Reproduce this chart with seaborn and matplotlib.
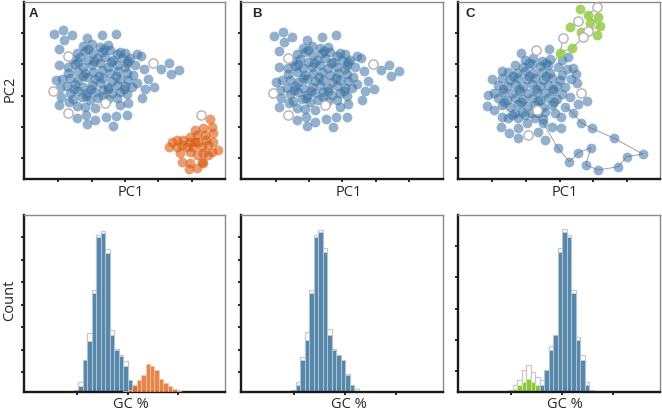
import numpy as np
import pandas as pd
import matplotlib
matplotlib.use("Agg")
import matplotlib.pyplot as plt
import seaborn as sns

# ---------------- data ----------------
# PCA scatter, panels A/B share the main cluster (PC1, PC2 in arbitrary units)
blue_ab = [
    (7.2, 10.2), (9.8, 9.0), (12.7, 10.6), (10.3, 12.0), (17.2, 11.5), (21.7, 10.6), (25.7, 10.1),
    (8.6, 14.8), (30.0, 17.5), (32.2, 16.3), (33.2, 16.8), (27.0, 15.5),
    (39.2, 20.6), (41.8, 19.0), (44.7, 20.9), (42.3, 22.2), (34.3, 20.8), (31.5, 19.5), (35.3, 23.7),
    (32.0, 24.8), (37.2, 26.2), (34.5, 26.8), (33.5, 29.5),
    (8.6, 19.5), (11.5, 20.0), (7.8, 24.0), (9.5, 23.6), (9.0, 26.5), (9.2, 29.0), (8.8, 31.6),
    (14.0, 35.5), (16.8, 34.5), (17.2, 37.3), (19.6, 36.0), (22.8, 35.2), (24.8, 37.7), (25.8, 34.7),
    (29.2, 34.5), (29.4, 30.8), (27.0, 31.5), (19.5, 32.5), (16.5, 32.2), (14.0, 31.8), (11.8, 30.5),
    (16.0, 13.8), (18.5, 13.2), (21.0, 14.0), (23.5, 13.5),
    (14.0, 15.8), (16.5, 15.2), (19.0, 16.0), (21.5, 15.5), (24.0, 15.0), (26.2, 16.2), (28.5, 15.8),
    (12.5, 17.8), (15.0, 17.2), (17.5, 18.0), (20.0, 17.5), (22.5, 17.0), (25.0, 18.0), (27.5, 17.4), (29.5, 18.2),
    (13.5, 19.2), (16.0, 20.0), (18.5, 19.5), (21.0, 19.0), (23.5, 20.0), (26.0, 19.5), (28.5, 20.2),
    (11.5, 21.8), (14.0, 21.2), (16.5, 22.0), (19.0, 21.5), (21.5, 21.0), (24.0, 22.0), (26.5, 21.4), (29.0, 21.8), (31.0, 22.5),
    (12.0, 23.5), (14.5, 24.0), (17.0, 23.2), (19.5, 23.8), (22.0, 23.4), (24.5, 24.2), (27.0, 23.6), (29.5, 23.9),
    (11.0, 25.8), (13.5, 25.2), (16.0, 26.0), (18.5, 25.5), (21.0, 25.0), (23.5, 26.0), (26.0, 25.4), (28.5, 25.8), (30.5, 26.0),
    (12.0, 27.8), (14.5, 27.2), (17.0, 28.0), (19.5, 27.5), (22.0, 27.0), (24.5, 28.0), (27.0, 27.5), (29.0, 28.2),
    (13.0, 29.8), (15.5, 29.2), (18.0, 30.0), (20.5, 29.5), (23.5, 29.8), (26.0, 29.4),
    (17.3, 14.6), (22.3, 14.7),
    (14.3, 18.6), (19.3, 18.4), (24.3, 18.5), (29.0, 19.0),
    (15.8, 22.9), (20.8, 22.7), (25.8, 22.8),
    (13.3, 26.6), (18.3, 26.8), (23.3, 26.7), (28.3, 26.8),
    (16.8, 28.9), (21.8, 28.7),
]
hollow_ab = [(11.5, 16.8), (36.8, 18.8), (7.0, 27.3), (11.5, 34.0), (22.5, 31.0)]
hollow_a_extra = [(51.2, 34.5)]
orange_a = [
    (54.0, 35.7), (54.5, 38.0), (52.0, 38.5), (49.5, 39.0), (50.0, 40.5), (48.0, 41.0), (52.5, 40.5),
    (55.0, 40.0), (52.8, 42.0), (50.5, 42.5), (48.0, 42.5), (46.0, 42.0), (44.0, 42.0), (42.5, 42.5),
    (41.8, 44.0), (44.0, 44.0), (45.5, 43.5), (47.0, 44.0), (49.0, 44.0), (51.5, 44.0), (53.5, 43.5),
    (55.0, 42.5), (56.5, 45.0), (54.5, 45.5), (52.0, 46.0), (50.0, 46.5), (48.0, 45.5), (45.0, 45.8),
    (45.5, 48.5), (48.0, 49.0), (51.5, 48.5), (52.0, 49.0), (50.0, 50.5), (47.8, 50.8), (53.5, 46.5), (49.5, 42.5),
]
blue_c = [
    (19.8, 15.8), (28.3, 14.8), (34.0, 17.2), (33.5, 20.8), (35.5, 20.5), (36.2, 22.2), (34.8, 23.8),
    (36.5, 24.8), (34.5, 29.0), (39.5, 30.2), (37.0, 31.2), (32.0, 28.3), (11.0, 23.8), (14.0, 21.2),
    (10.0, 28.5), (11.8, 27.8), (9.5, 31.8), (11.8, 33.0), (14.0, 35.0), (13.8, 38.2), (16.3, 40.0),
    (19.0, 38.5), (19.0, 41.5), (21.5, 36.8), (25.0, 39.5), (22.8, 34.0), (16.0, 35.5), (18.0, 34.0),
    (31.8, 38.5), (29.0, 38.0), (31.8, 35.2), (30.0, 34.0), (27.0, 33.5), (32.0, 18.0), (27.0, 42.0),
    (21.0, 18.0), (23.5, 17.5), (26.0, 18.3), (28.5, 17.8),
    (18.0, 19.5), (20.5, 20.0), (23.0, 19.3), (25.5, 19.8), (28.0, 19.5), (31.0, 20.0),
    (16.0, 21.5), (18.5, 22.0), (21.0, 21.3), (23.5, 21.8), (26.0, 21.5), (28.5, 22.0), (32.0, 22.5),
    (14.0, 23.5), (16.5, 24.0), (19.0, 23.3), (21.5, 23.8), (24.0, 23.5), (26.5, 24.0), (29.0, 23.4), (31.5, 24.0),
    (13.0, 25.5), (15.5, 25.8), (18.0, 25.2), (20.5, 25.7), (23.0, 25.3), (25.5, 25.8), (28.0, 25.4), (30.5, 25.9), (33.0, 26.0),
    (14.5, 27.5), (17.0, 28.0), (19.5, 27.3), (22.0, 27.8), (24.5, 27.5), (27.0, 28.0), (29.5, 27.4),
    (13.0, 29.5), (15.5, 30.0), (18.0, 29.3), (20.5, 29.8), (23.0, 29.5), (25.5, 30.0), (28.0, 29.4), (30.5, 29.8),
    (14.0, 31.5), (16.5, 32.0), (19.0, 31.3), (21.5, 31.8), (24.0, 31.5), (26.5, 32.0), (29.0, 31.4),
    (20.0, 33.5), (25.0, 33.8), (19.0, 35.5), (24.0, 35.5), (26.5, 35.8),
    (22.3, 18.8), (27.3, 18.9),
    (17.3, 22.7), (22.3, 22.8), (27.3, 22.9),
    (14.3, 26.6), (19.3, 26.8), (24.3, 26.7), (29.3, 26.8),
    (14.8, 30.6), (19.8, 30.5), (24.8, 30.4), (29.8, 30.6),
    (17.0, 34.5), (21.0, 34.6),
]
green_c = [(37.5, 2.8), (39.8, 4.5), (42.8, 5.0), (40.5, 7.0), (43.5, 7.8), (34.5, 8.2),
           (37.8, 9.5), (42.5, 10.5), (35.0, 14.5), (31.5, 15.8)]
hollow_c = [(42.5, 2.2), (37.0, 6.2), (40.0, 9.2), (38.5, 11.2), (32.5, 11.3), (24.2, 15.0),
            (37.8, 28.0), (22.0, 40.5), (24.5, 33.0)]
chain_c = [(26.5, 37.0), (30.8, 44.3), (34.3, 48.5), (37.0, 45.8), (40.8, 44.3), (39.2, 49.5),
           (43.0, 51.0), (49.0, 50.0), (51.5, 47.0), (56.3, 46.2), (47.8, 41.5), (41.0, 38.5),
           (37.8, 36.8), (35.5, 34.0), (33.0, 32.0)]
top_path_c = [(42.5, 2.2), (39.8, 4.5), (43.5, 7.8), (40.0, 9.2), (38.5, 11.2), (35.0, 14.5),
              (31.5, 15.8), (29.5, 19.0)]
side_path_c = [(32.5, 11.3), (31.5, 15.8)]

# GC % histograms (bin centres and counts per bin)
gc_bins = [29.84, 30.73, 31.61, 32.50, 33.38, 34.27, 35.15, 36.04, 36.92, 37.81, 38.69, 39.58,
           40.46, 41.35, 42.23, 43.12, 44.00, 44.89, 45.77, 46.66, 47.54, 48.43, 49.31, 50.20]
a_total = [1.5, 6.3, 20.2, 36.9, 63.5, 98.3, 100.4, 89.0, 39.0, 27.0, 22.9, 19.4, 7.7, 4.2]
a_blue = [0, 3.5, 20.2, 31.9, 61.9, 96.5, 99.0, 86.9, 35.4, 26.0, 22.3, 16.0, 7.3, 4.0]
a_orange = [0, 0, 0, 0, 0, 0, 0, 0, 0, 0, 0, 0.6, 1.5, 4.2, 7.3, 10.4, 17.7, 16.0, 13.5, 8.3, 5.6, 3.5, 2.1, 0.6]
b_total = [1.5, 6.3, 21.9, 37.5, 63.5, 98.3, 101.0, 89.6, 39.6, 27.1, 23.3, 20.2, 11.5, 4.6, 1.7]
b_blue = [0, 4.2, 19.8, 32.3, 62.1, 96.5, 100.0, 87.5, 35.4, 26.5, 22.9, 20.2, 10.8, 4.2, 0]
c_total = [1.5, 4.6, 7.3, 13.5, 17.1, 12.3, 9.4, 7.7, 13.5, 28.8, 35.4, 89.6, 101.5, 98.3, 63.5, 34.4, 22.9, 6.3, 1.5]
c_green = [0, 2.1, 4.2, 6.3, 7.9, 6.3, 4.6]
c_blue = [0, 0, 0, 0, 0, 0, 0, 4.6, 13.5, 26.5, 35.4, 87.1, 100.0, 96.5, 61.9, 32.3, 19.8, 4.2]

# ---------------- styling ----------------
sns.set_theme(style="ticks")
plt.rcParams["font.family"] = ["Open Sans", "DejaVu Sans"]

BLUE_PT = "#3a72a3"
ORANGE_PT = "#d95a10"
GREEN_PT = "#96cc45"
BLUE_BAR = "#5887ac"
ORANGE_BAR = "#e2712b"
GREEN_BAR = "#8cc63f"

W, H = 662, 413
fig = plt.figure(figsize=(W / 100, H / 100), dpi=100)


def add_ax(l, t, r, b):
    return fig.add_axes([l / W, 1 - b / H, (r - l) / W, (b - t) / H])


def style(ax):
    for s in ["left", "bottom"]:
        ax.spines[s].set_color("#1a1a1a")
        ax.spines[s].set_linewidth(1.7)
    for s in ["top", "right"]:
        ax.spines[s].set_color("#8a8a8a")
        ax.spines[s].set_linewidth(1.0)
    ax.tick_params(direction="out", length=2.5, width=1.3, color="#1a1a1a",
                   labelbottom=False, labelleft=False, bottom=True, left=True)
    ax.set_xlabel("")
    ax.set_ylabel("")


def df(pts):
    return pd.DataFrame(pts, columns=["pc1", "pc2"])


def pts(ax, data, color, alpha, zorder):
    d = df(data)
    sns.scatterplot(data=d, x="pc1", y="pc2", ax=ax, color=color, alpha=alpha, s=50,
                    linewidth=0, legend=False, zorder=zorder)


def hollow(ax, data):
    d = df(data)
    sns.scatterplot(data=d, x="pc1", y="pc2", ax=ax, color="white", edgecolor="#b3b3b3",
                    s=44, linewidth=1.0, legend=False, zorder=5)


def path(ax, data):
    d = df(data)
    sns.lineplot(data=d, x="pc1", y="pc2", ax=ax, sort=False, estimator=None,
                 color="#a0a0a0", linewidth=0.7, legend=False, zorder=1)


# ---------- top row ----------
axA = add_ax(24, 2, 225, 179)
pts(axA, blue_ab, BLUE_PT, 0.55, 3)
pts(axA, orange_a, ORANGE_PT, 0.6, 3)
hollow(axA, hollow_ab + hollow_a_extra)
axA.set_xlim(-1.8, 58.5)
axA.set_ylim(53.7, 0.6)
axA.set_xticks([8.5, 18.5, 28.5, 38.5, 48.5])
axA.set_yticks([9.9, 19.2, 28.8, 38.1, 47.4])

axB = add_ax(241, 2, 443, 179)
pts(axB, blue_ab, BLUE_PT, 0.55, 3)
hollow(axB, hollow_ab)
axB.set_xlim(-2.65, 57.95)
axB.set_ylim(53.2, 0.1)
axB.set_xticks([7.75, 17.75, 27.75, 37.75, 47.75])
axB.set_yticks([9.4, 18.7, 28.3, 37.6, 46.9])

axC = add_ax(458, 2, 660, 179)
path(axC, chain_c)
path(axC, top_path_c)
path(axC, side_path_c)
pts(axC, blue_c, BLUE_PT, 0.55, 3)
pts(axC, chain_c, BLUE_PT, 0.55, 3)
pts(axC, green_c, GREEN_PT, 0.85, 4)
hollow(axC, hollow_c)
axC.set_xlim(0.9, 61.5)
axC.set_ylim(53.7, 0.6)
axC.set_xticks([11.2, 21.2, 31.5, 41.5, 51.5])
axC.set_yticks([10.0, 19.3, 28.7, 38.0, 47.5])

for ax in (axA, axB, axC):
    style(ax)

# ---------- bottom row ----------
BW = 0.885
EDGES = [round(29.4 + BW * k, 4) for k in range(len(gc_bins) + 1)]


def hist(ax, counts, color, edge, lw, alpha=1.0, z=2):
    d = pd.DataFrame({"gc": gc_bins[:len(counts)], "n": counts})
    sns.histplot(data=d, x="gc", weights="n", bins=EDGES, ax=ax, color=color, edgecolor=edge,
                 linewidth=lw, alpha=alpha, zorder=z)


axD = add_ax(24, 215, 225, 392)
hist(axD, a_total, "white", "#c8c8c8", 0.9, z=1)
hist(axD, a_blue, BLUE_BAR, "#c4d2de", 0.5, z=2)
hist(axD, a_orange, ORANGE_BAR, "#f2c6a8", 0.5, alpha=0.85, z=3)
axD.set_yticks([12.5, 26.5, 40.5, 54.5, 68.5, 82.5, 96.5])

axE = add_ax(241, 215, 443, 392)
hist(axE, b_total, "white", "#c8c8c8", 0.9, z=1)
hist(axE, b_blue, BLUE_BAR, "#c4d2de", 0.5, z=2)
axE.set_yticks([12.5, 26.5, 40.5, 54.5, 68.5, 82.5, 96.5])

axF = add_ax(458, 215, 660, 392)
hist(axF, c_total, "white", "#c8c8c8", 0.9, z=1)
hist(axF, c_green, GREEN_BAR, "#d6ebb8", 0.5, z=2)
hist(axF, c_blue, BLUE_BAR, "#c4d2de", 0.5, z=2)
axF.set_yticks([12.9, 32.5, 52.0, 71.6, 91.1])

for ax in (axD, axE, axF):
    ax.set_xlim(19.5, 59.3)
    ax.set_ylim(0, 110.5)
    ax.set_xticks([30, 40, 50])
    style(ax)

# ---------- text ----------
fs = 10.5
fig.text(10 / W, 1 - 89 / H, "PC2", rotation=90, ha="center", va="center", fontsize=fs)
fig.text(10 / W, 1 - 300 / H, "Count", rotation=90, ha="center", va="center", fontsize=fs)
for cx in (131, 349, 565):
    fig.text(cx / W, 1 - 193 / H, "PC1", ha="center", va="center", fontsize=fs)
    fig.text(cx / W, 1 - 405 / H, "GC %", ha="center", va="center", fontsize=fs)
for lx, lab in ((29, "A"), (252, "B"), (465, "C")):
    fig.text(lx / W, 1 - 17 / H, lab, ha="left", va="baseline", fontsize=9.5,
             fontweight="bold", family=["Liberation Sans", "DejaVu Sans"])

fig.savefig("out.png", dpi=100)
